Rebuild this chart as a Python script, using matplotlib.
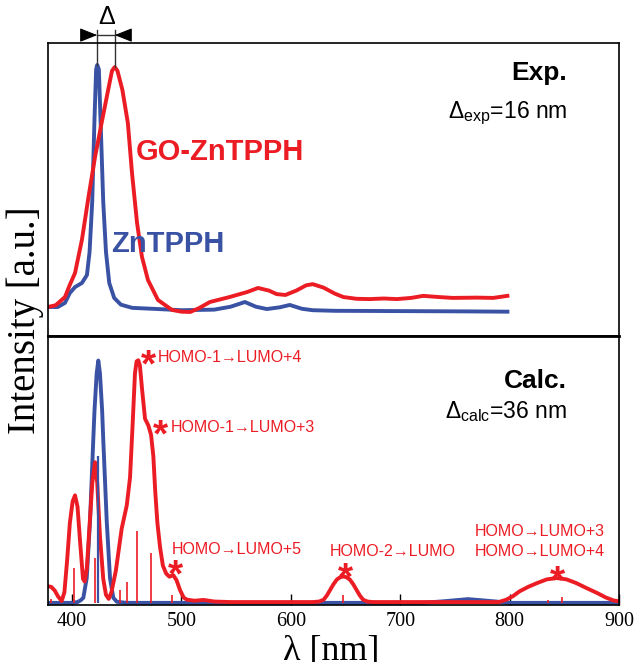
import matplotlib
matplotlib.use('Agg')
import matplotlib.pyplot as plt

RED = '#ec1c24'
BLUE = '#3a52a4'
SANS = ['Liberation Sans', 'DejaVu Sans']
SERIF = ['Liberation Serif', 'DejaVu Serif']

exp_znt_nm = [378, 387, 393.5, 398, 402.7, 409, 413.6, 416, 418.4, 420.5, 422, 423,
              424.5, 426, 428.5, 431, 434, 438.5, 444.6, 455, 473, 500, 530, 545,
              558, 568, 578, 590, 599, 610, 620, 640, 700, 760, 798]
exp_znt_int = [0.099, 0.099, 0.113, 0.147, 0.167, 0.181, 0.208, 0.287, 0.457, 0.74, 0.91, 0.925,
               0.91, 0.74, 0.457, 0.287, 0.181, 0.13, 0.107, 0.096, 0.093, 0.088, 0.09, 0.1,
               0.116, 0.1, 0.092, 0.098, 0.106, 0.093, 0.088, 0.086, 0.085, 0.084, 0.083]

exp_go_nm = [378, 385, 393.5, 398, 402.7, 409, 415, 421, 427, 433, 436.5, 439, 441.5,
             446, 451, 454.8, 459.4, 463.9, 469.4, 478.5, 491.3, 500, 508, 516, 526,
             544, 560, 570, 580, 587, 595, 605, 614, 620, 630, 640, 648, 660, 672,
             685, 697, 710, 721, 735, 748, 770, 785, 798]
exp_go_int = [0.099, 0.105, 0.133, 0.175, 0.215, 0.328, 0.474, 0.611, 0.727, 0.84, 0.905, 0.918, 0.905,
              0.84, 0.727, 0.556, 0.386, 0.27, 0.191, 0.123, 0.089, 0.083, 0.082, 0.095, 0.116,
              0.133, 0.15, 0.164, 0.155, 0.143, 0.14, 0.155, 0.173, 0.177, 0.165, 0.145, 0.133, 0.127, 0.126,
              0.128, 0.126, 0.13, 0.137, 0.133, 0.13, 0.131, 0.13, 0.137]

# --- calculated spectra (bottom panel) ---
calc_znt_nm = [378, 400, 405, 408, 410.3, 413.4, 416.4, 419.4, 420.5, 422.5, 424, 425.5,
               427.5, 428.5, 431.7, 434.7, 437.7, 441, 450, 720, 740, 762, 785, 800, 900]
calc_znt_int = [0.0, 0.0, 0.003, 0.01, 0.019, 0.093, 0.305, 0.613, 0.72, 0.86, 0.908, 0.86,
                0.72, 0.613, 0.305, 0.093, 0.019, 0.004, 0.0, 0.0, 0.006, 0.014, 0.006, 0.0, 0.0]

calc_go_nm = [378, 381, 384.4, 387, 390.5, 393, 395.5, 398, 400.5, 402.7, 405, 407.5, 410,
              411.5, 413.5, 416, 418.5, 421, 423, 425.5, 428.5, 431, 433.5, 436, 440,
              445.4, 450, 453, 455.5, 457.5, 459, 460.5, 462, 464, 466.7, 469.7, 472.2,
              474.3, 476, 478, 480.4, 483, 486, 489, 492.5, 495.5, 498.7, 502, 505, 512,
              520, 530, 545, 620, 626, 630, 633, 636, 639, 642, 645, 648, 651, 654, 657,
              660, 663, 666, 670, 675, 790, 797, 803, 809, 817, 825, 834, 843, 852, 861,
              870, 880, 888, 895, 900]
calc_go_int = [0.062, 0.06, 0.045, 0.025, 0.007, 0.04, 0.16, 0.30, 0.38, 0.403, 0.36, 0.22, 0.09,
               0.08, 0.13, 0.29, 0.45, 0.527, 0.45, 0.25, 0.09, 0.03, 0.015, 0.04, 0.12,
               0.279, 0.365, 0.47, 0.68, 0.86, 0.905, 0.909, 0.89, 0.80, 0.69, 0.665, 0.63,
               0.55, 0.42, 0.30, 0.21, 0.14, 0.11, 0.098, 0.104, 0.085, 0.048, 0.02, 0.012, 0.008,
               0.011, 0.005, 0.003, 0.003, 0.005, 0.012, 0.028, 0.049, 0.07, 0.087, 0.096, 0.099, 0.096, 0.087, 0.07,
               0.049, 0.028, 0.012, 0.005, 0.003, 0.003, 0.012, 0.025, 0.043, 0.06, 0.074, 0.088, 0.093, 0.088, 0.074,
               0.056, 0.037, 0.02, 0.009, 0.006]

# oscillator strengths (sticks)
stick_go_nm = [381, 402, 421, 443.8, 450.5, 459.6, 472.2, 491.6, 647.6, 835, 848]
stick_go_f = [0.015, 0.130, 0.167, 0.048, 0.078, 0.268, 0.186, 0.030, 0.030, 0.011, 0.022]
stick_znt_nm = [424]
stick_znt_f = [0.551]

x_ticks = [400, 500, 600, 700, 800, 900]

W, H = 636, 662


def px(x, y):
    return x / W, 1 - y / H


fig = plt.figure(figsize=(W / 100, H / 100), dpi=100)
ax_top = fig.add_axes([48 / W, 1 - 336 / H, 571 / W, 293 / H])
ax_bot = fig.add_axes([48 / W, 1 - 605 / H, 571 / W, 269 / H], sharex=ax_top)

# top panel
ax_top.plot(exp_znt_nm, exp_znt_int, color=BLUE, lw=2.8, solid_joinstyle='round')
ax_top.plot(exp_go_nm, exp_go_int, color=RED, lw=2.8, solid_joinstyle='round')
ax_top.set_ylim(0, 1)
ax_top.set_xlim(378, 900)
ax_top.tick_params(bottom=False, left=False, labelbottom=False, labelleft=False)

# bottom panel
ax_bot.plot(calc_znt_nm, calc_znt_int, color=BLUE, lw=2.8, solid_joinstyle='round')
ax_bot.plot(calc_go_nm, calc_go_int, color=RED, lw=2.8, solid_joinstyle='round')
ax_bot.vlines(stick_go_nm, 0, stick_go_f, color=RED, lw=1.2)
ax_bot.vlines(stick_znt_nm, 0, stick_znt_f, color=BLUE, lw=1.6)
ax_bot.set_ylim(-0.008, 1.0)
ax_bot.set_xticks(x_ticks)
ax_bot.tick_params(axis='x', direction='in', length=8, width=1, pad=5, labelsize=14.5)
ax_bot.tick_params(left=False, labelleft=False)
for lab in ax_bot.get_xticklabels():
    lab.set_family(SERIF)

for ax in (ax_top, ax_bot):
    for sp in ax.spines.values():
        sp.set_linewidth(1.2)
ax_bot.spines['top'].set_linewidth(2.0)

# peak shift marker above the top panel
pk_b = exp_znt_nm[exp_znt_int.index(max(exp_znt_int))]
pk_r = exp_go_nm[exp_go_int.index(max(exp_go_int))]
y_bar = 1.027
for pk, val, off in ((pk_b, max(exp_znt_int), -11), (pk_r, max(exp_go_int), 11)):
    ax_top.plot([pk, pk], [val, 1.045], color='#333333', lw=1.0, clip_on=False)
    ax_top.annotate('', xy=(pk, y_bar), xycoords='data',
                    xytext=(off, 0), textcoords='offset points',
                    arrowprops=dict(arrowstyle='-|>,head_length=1.08,head_width=0.43',
                                    mutation_scale=10, color='black', lw=0.8,
                                    shrinkA=0, shrinkB=0),
                    annotation_clip=False)
ax_top.plot([pk_b, pk_r], [y_bar, y_bar], color='#333333', lw=1.0, clip_on=False)
fig.text(*px(106.5, 17), 'Δ', family=SANS, size=18, ha='center', va='center')

# panel texts
fig.text(*px(567, 80), 'Exp.', family=SANS, weight='bold', size=19, ha='right', va='baseline')
fig.text(*px(567, 118), 'Δ$_\\mathregular{exp}$=16 nm', family=SANS, size=16.5,
         ha='right', va='baseline')
fig.text(*px(567, 388), 'Calc.', family=SANS, weight='bold', size=19, ha='right', va='baseline')
fig.text(*px(567, 418), 'Δ$_\\mathregular{calc}$=36 nm', family=SANS, size=16.5,
         ha='right', va='baseline')

fig.text(*px(220, 152), 'GO-ZnTPPH', family=SANS, weight='bold', size=21, color=RED,
         ha='center', va='center')
fig.text(*px(111, 244), 'ZnTPPH', family=SANS, weight='bold', size=21, color=BLUE,
         ha='left', va='center')

# transition labels
labels = [
    ('HOMO-1→LUMO+4', 158, 362, 'left'),
    ('HOMO-1→LUMO+3', 171, 432, 'left'),
    ('HOMO→LUMO+5', 302, 554, 'right'),
    ('HOMO-2→LUMO', 330, 556, 'left'),
    ('HOMO→LUMO+3', 475, 536, 'left'),
    ('HOMO→LUMO+4', 475, 556, 'left'),
]
for txt, x, y, ha in labels:
    fig.text(*px(x, y), txt, family=SANS, size=11.5, color=RED, ha=ha, va='baseline')

stars = [(148.3, 357.5), (160, 427), (175.8, 567.5), (345.7, 570), (557.5, 573)]
for x, y in stars:
    fig.text(*px(x, y + 19), '*', family=SANS, weight='bold', size=28, color=RED,
             ha='center', va='baseline')

fig.text(*px(25, 320), 'Intensity [a.u.]', family=SERIF, size=28, rotation=90,
         ha='center', va='center')
fig.text(*px(331, 660), 'λ [nm]', family=SERIF, size=26, ha='center', va='baseline')

fig.savefig('out.png', dpi=100)
